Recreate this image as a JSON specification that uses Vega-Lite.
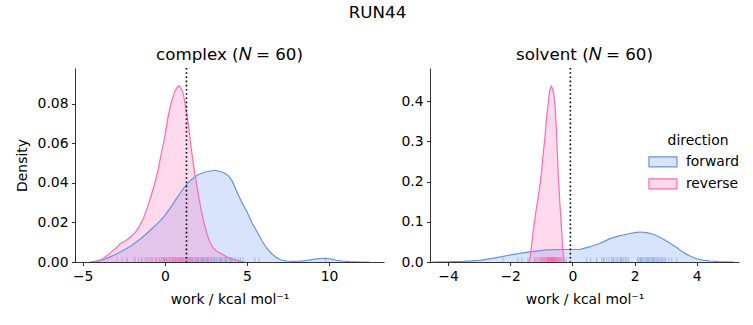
{
  "$schema": "https://vega.github.io/schema/vega-lite/v6.json",
  "background": "white",
  "padding": {"left": 15, "top": 4, "right": 5, "bottom": 5},
  "title": {"text": "RUN44", "fontSize": 16.7, "fontWeight": "normal", "font": "DejaVu Sans", "anchor": "middle", "offset": 25, "color": "black"},
  "config": {
    "font": "DejaVu Sans",
    "view": {"stroke": null},
    "axis": {"grid": false, "domainColor": "black", "domainWidth": 0.8, "tickColor": "black", "tickWidth": 0.8, "tickSize": 3.5, "labelPadding": 3.5, "labelFontSize": 13.9, "labelColor": "black", "titleFontSize": 13.9, "titleFontWeight": "normal", "titleColor": "black", "labelFont": "DejaVu Sans", "titleFont": "DejaVu Sans", "titlePadding": 10},
    "title": {"fontSize": 16.7, "fontWeight": "normal", "font": "DejaVu Sans", "color": "black"},
    "concat": {"spacing": 16}
  },
  "datasets": {
    "kde": [
      {"panel": "complex", "direction": "forward", "work": -4.5, "density": 0},
      {"panel": "complex", "direction": "forward", "work": -4.0, "density": 0.0005},
      {"panel": "complex", "direction": "forward", "work": -3.42, "density": 0.0022},
      {"panel": "complex", "direction": "forward", "work": -3.0, "density": 0.0038},
      {"panel": "complex", "direction": "forward", "work": -2.41, "density": 0.0064},
      {"panel": "complex", "direction": "forward", "work": -2.0, "density": 0.0085},
      {"panel": "complex", "direction": "forward", "work": -1.4, "density": 0.0123},
      {"panel": "complex", "direction": "forward", "work": -1.0, "density": 0.0152},
      {"panel": "complex", "direction": "forward", "work": -0.39, "density": 0.0199},
      {"panel": "complex", "direction": "forward", "work": 0.0, "density": 0.0235},
      {"panel": "complex", "direction": "forward", "work": 0.42, "density": 0.0284},
      {"panel": "complex", "direction": "forward", "work": 0.8, "density": 0.0332},
      {"panel": "complex", "direction": "forward", "work": 1.03, "density": 0.0359},
      {"panel": "complex", "direction": "forward", "work": 1.3, "density": 0.039},
      {"panel": "complex", "direction": "forward", "work": 1.64, "density": 0.0419},
      {"panel": "complex", "direction": "forward", "work": 2.0, "density": 0.044},
      {"panel": "complex", "direction": "forward", "work": 2.45, "density": 0.0455},
      {"panel": "complex", "direction": "forward", "work": 3.05, "density": 0.0464},
      {"panel": "complex", "direction": "forward", "work": 3.5, "density": 0.0455},
      {"panel": "complex", "direction": "forward", "work": 3.86, "density": 0.0438},
      {"panel": "complex", "direction": "forward", "work": 4.1, "density": 0.041},
      {"panel": "complex", "direction": "forward", "work": 4.37, "density": 0.0359},
      {"panel": "complex", "direction": "forward", "work": 4.7, "density": 0.03},
      {"panel": "complex", "direction": "forward", "work": 4.98, "density": 0.0258},
      {"panel": "complex", "direction": "forward", "work": 5.3, "density": 0.02},
      {"panel": "complex", "direction": "forward", "work": 5.59, "density": 0.0157},
      {"panel": "complex", "direction": "forward", "work": 5.9, "density": 0.011},
      {"panel": "complex", "direction": "forward", "work": 6.19, "density": 0.0072},
      {"panel": "complex", "direction": "forward", "work": 6.5, "density": 0.0043},
      {"panel": "complex", "direction": "forward", "work": 6.8, "density": 0.0022},
      {"panel": "complex", "direction": "forward", "work": 7.1, "density": 0.001},
      {"panel": "complex", "direction": "forward", "work": 7.41, "density": 0.0005},
      {"panel": "complex", "direction": "forward", "work": 7.8, "density": 0.0003},
      {"panel": "complex", "direction": "forward", "work": 8.2, "density": 0.0004},
      {"panel": "complex", "direction": "forward", "work": 8.6, "density": 0.0007},
      {"panel": "complex", "direction": "forward", "work": 9.02, "density": 0.0013},
      {"panel": "complex", "direction": "forward", "work": 9.4, "density": 0.0017},
      {"panel": "complex", "direction": "forward", "work": 9.73, "density": 0.0019},
      {"panel": "complex", "direction": "forward", "work": 10.1, "density": 0.0016},
      {"panel": "complex", "direction": "forward", "work": 10.44, "density": 0.0009},
      {"panel": "complex", "direction": "forward", "work": 10.8, "density": 0.0005},
      {"panel": "complex", "direction": "forward", "work": 11.25, "density": 0.0002},
      {"panel": "complex", "direction": "forward", "work": 11.8, "density": 0.00005},
      {"panel": "complex", "direction": "forward", "work": 12.45, "density": 0},
      {"panel": "complex", "direction": "reverse", "work": -4.55, "density": 0},
      {"panel": "complex", "direction": "reverse", "work": -4.2, "density": 0.0004},
      {"panel": "complex", "direction": "reverse", "work": -3.8, "density": 0.0015},
      {"panel": "complex", "direction": "reverse", "work": -3.4, "density": 0.004},
      {"panel": "complex", "direction": "reverse", "work": -3.0, "density": 0.0068},
      {"panel": "complex", "direction": "reverse", "work": -2.72, "density": 0.0092},
      {"panel": "complex", "direction": "reverse", "work": -2.4, "density": 0.0108},
      {"panel": "complex", "direction": "reverse", "work": -2.1, "density": 0.0125},
      {"panel": "complex", "direction": "reverse", "work": -1.8, "density": 0.015},
      {"panel": "complex", "direction": "reverse", "work": -1.6, "density": 0.0172},
      {"panel": "complex", "direction": "reverse", "work": -1.3, "density": 0.022},
      {"panel": "complex", "direction": "reverse", "work": -1.0, "density": 0.029},
      {"panel": "complex", "direction": "reverse", "work": -0.8, "density": 0.0345},
      {"panel": "complex", "direction": "reverse", "work": -0.6, "density": 0.04},
      {"panel": "complex", "direction": "reverse", "work": -0.4, "density": 0.047},
      {"panel": "complex", "direction": "reverse", "work": -0.2, "density": 0.0555},
      {"panel": "complex", "direction": "reverse", "work": 0.0, "density": 0.0635},
      {"panel": "complex", "direction": "reverse", "work": 0.2, "density": 0.0735},
      {"panel": "complex", "direction": "reverse", "work": 0.4, "density": 0.081},
      {"panel": "complex", "direction": "reverse", "work": 0.6, "density": 0.086},
      {"panel": "complex", "direction": "reverse", "work": 0.75, "density": 0.0884},
      {"panel": "complex", "direction": "reverse", "work": 0.87, "density": 0.0891},
      {"panel": "complex", "direction": "reverse", "work": 1.0, "density": 0.0878},
      {"panel": "complex", "direction": "reverse", "work": 1.13, "density": 0.0849},
      {"panel": "complex", "direction": "reverse", "work": 1.3, "density": 0.077},
      {"panel": "complex", "direction": "reverse", "work": 1.43, "density": 0.0697},
      {"panel": "complex", "direction": "reverse", "work": 1.6, "density": 0.058},
      {"panel": "complex", "direction": "reverse", "work": 1.74, "density": 0.0495},
      {"panel": "complex", "direction": "reverse", "work": 1.9, "density": 0.041},
      {"panel": "complex", "direction": "reverse", "work": 2.04, "density": 0.0343},
      {"panel": "complex", "direction": "reverse", "work": 2.2, "density": 0.027},
      {"panel": "complex", "direction": "reverse", "work": 2.35, "density": 0.0212},
      {"panel": "complex", "direction": "reverse", "work": 2.55, "density": 0.0145},
      {"panel": "complex", "direction": "reverse", "work": 2.75, "density": 0.01},
      {"panel": "complex", "direction": "reverse", "work": 2.95, "density": 0.0071},
      {"panel": "complex", "direction": "reverse", "work": 3.2, "density": 0.0052},
      {"panel": "complex", "direction": "reverse", "work": 3.56, "density": 0.0036},
      {"panel": "complex", "direction": "reverse", "work": 3.9, "density": 0.002},
      {"panel": "complex", "direction": "reverse", "work": 4.37, "density": 0.0008},
      {"panel": "complex", "direction": "reverse", "work": 4.8, "density": 0},
      {"panel": "solvent", "direction": "forward", "work": -4.5, "density": 0},
      {"panel": "solvent", "direction": "forward", "work": -4.0, "density": 0.0005},
      {"panel": "solvent", "direction": "forward", "work": -3.5, "density": 0.0015},
      {"panel": "solvent", "direction": "forward", "work": -2.97, "density": 0.004},
      {"panel": "solvent", "direction": "forward", "work": -2.44, "density": 0.011},
      {"panel": "solvent", "direction": "forward", "work": -1.9, "density": 0.019},
      {"panel": "solvent", "direction": "forward", "work": -1.37, "density": 0.025},
      {"panel": "solvent", "direction": "forward", "work": -0.83, "density": 0.03},
      {"panel": "solvent", "direction": "forward", "work": -0.3, "density": 0.031},
      {"panel": "solvent", "direction": "forward", "work": 0.25, "density": 0.0315},
      {"panel": "solvent", "direction": "forward", "work": 0.57, "density": 0.038},
      {"panel": "solvent", "direction": "forward", "work": 0.8, "density": 0.044},
      {"panel": "solvent", "direction": "forward", "work": 1.0, "density": 0.05},
      {"panel": "solvent", "direction": "forward", "work": 1.21, "density": 0.058},
      {"panel": "solvent", "direction": "forward", "work": 1.5, "density": 0.065},
      {"panel": "solvent", "direction": "forward", "work": 1.75, "density": 0.069},
      {"panel": "solvent", "direction": "forward", "work": 2.0, "density": 0.073},
      {"panel": "solvent", "direction": "forward", "work": 2.18, "density": 0.0745},
      {"panel": "solvent", "direction": "forward", "work": 2.4, "density": 0.073},
      {"panel": "solvent", "direction": "forward", "work": 2.6, "density": 0.069},
      {"panel": "solvent", "direction": "forward", "work": 2.8, "density": 0.062},
      {"panel": "solvent", "direction": "forward", "work": 3.03, "density": 0.052},
      {"panel": "solvent", "direction": "forward", "work": 3.2, "density": 0.044},
      {"panel": "solvent", "direction": "forward", "work": 3.36, "density": 0.0355},
      {"panel": "solvent", "direction": "forward", "work": 3.52, "density": 0.027},
      {"panel": "solvent", "direction": "forward", "work": 3.68, "density": 0.019},
      {"panel": "solvent", "direction": "forward", "work": 3.84, "density": 0.013},
      {"panel": "solvent", "direction": "forward", "work": 4.0, "density": 0.008},
      {"panel": "solvent", "direction": "forward", "work": 4.2, "density": 0.0045},
      {"panel": "solvent", "direction": "forward", "work": 4.43, "density": 0.0025},
      {"panel": "solvent", "direction": "forward", "work": 4.7, "density": 0.0012},
      {"panel": "solvent", "direction": "forward", "work": 4.97, "density": 0.0005},
      {"panel": "solvent", "direction": "forward", "work": 5.2, "density": 0},
      {"panel": "solvent", "direction": "reverse", "work": -1.4, "density": 0},
      {"panel": "solvent", "direction": "reverse", "work": -1.36, "density": 0.01},
      {"panel": "solvent", "direction": "reverse", "work": -1.31, "density": 0.044},
      {"panel": "solvent", "direction": "reverse", "work": -1.26, "density": 0.077},
      {"panel": "solvent", "direction": "reverse", "work": -1.17, "density": 0.127},
      {"panel": "solvent", "direction": "reverse", "work": -1.1, "density": 0.16},
      {"panel": "solvent", "direction": "reverse", "work": -1.04, "density": 0.193},
      {"panel": "solvent", "direction": "reverse", "work": -0.99, "density": 0.226},
      {"panel": "solvent", "direction": "reverse", "work": -0.94, "density": 0.268},
      {"panel": "solvent", "direction": "reverse", "work": -0.88, "density": 0.312},
      {"panel": "solvent", "direction": "reverse", "work": -0.83, "density": 0.36},
      {"panel": "solvent", "direction": "reverse", "work": -0.77, "density": 0.4},
      {"panel": "solvent", "direction": "reverse", "work": -0.73, "density": 0.425},
      {"panel": "solvent", "direction": "reverse", "work": -0.68, "density": 0.437},
      {"panel": "solvent", "direction": "reverse", "work": -0.63, "density": 0.43},
      {"panel": "solvent", "direction": "reverse", "work": -0.59, "density": 0.412},
      {"panel": "solvent", "direction": "reverse", "work": -0.56, "density": 0.39},
      {"panel": "solvent", "direction": "reverse", "work": -0.51, "density": 0.326},
      {"panel": "solvent", "direction": "reverse", "work": -0.46, "density": 0.226},
      {"panel": "solvent", "direction": "reverse", "work": -0.4, "density": 0.143},
      {"panel": "solvent", "direction": "reverse", "work": -0.35, "density": 0.085},
      {"panel": "solvent", "direction": "reverse", "work": -0.3, "density": 0.023},
      {"panel": "solvent", "direction": "reverse", "work": -0.26, "density": 0}
    ],
    "rug": [
      {"panel": "complex", "direction": "forward", "work": -2.3},
      {"panel": "complex", "direction": "forward", "work": -1.8},
      {"panel": "complex", "direction": "forward", "work": -1.4},
      {"panel": "complex", "direction": "forward", "work": -1.1},
      {"panel": "complex", "direction": "forward", "work": -0.8},
      {"panel": "complex", "direction": "forward", "work": -0.55},
      {"panel": "complex", "direction": "forward", "work": -0.3},
      {"panel": "complex", "direction": "forward", "work": -0.1},
      {"panel": "complex", "direction": "forward", "work": 0.1},
      {"panel": "complex", "direction": "forward", "work": 0.3},
      {"panel": "complex", "direction": "forward", "work": 0.5},
      {"panel": "complex", "direction": "forward", "work": 0.65},
      {"panel": "complex", "direction": "forward", "work": 0.8},
      {"panel": "complex", "direction": "forward", "work": 0.95},
      {"panel": "complex", "direction": "forward", "work": 1.1},
      {"panel": "complex", "direction": "forward", "work": 1.25},
      {"panel": "complex", "direction": "forward", "work": 1.4},
      {"panel": "complex", "direction": "forward", "work": 1.55},
      {"panel": "complex", "direction": "forward", "work": 1.7},
      {"panel": "complex", "direction": "forward", "work": 1.85},
      {"panel": "complex", "direction": "forward", "work": 1.95},
      {"panel": "complex", "direction": "forward", "work": 2.05},
      {"panel": "complex", "direction": "forward", "work": 2.15},
      {"panel": "complex", "direction": "forward", "work": 2.25},
      {"panel": "complex", "direction": "forward", "work": 2.35},
      {"panel": "complex", "direction": "forward", "work": 2.45},
      {"panel": "complex", "direction": "forward", "work": 2.55},
      {"panel": "complex", "direction": "forward", "work": 2.65},
      {"panel": "complex", "direction": "forward", "work": 2.75},
      {"panel": "complex", "direction": "forward", "work": 2.85},
      {"panel": "complex", "direction": "forward", "work": 2.95},
      {"panel": "complex", "direction": "forward", "work": 3.05},
      {"panel": "complex", "direction": "forward", "work": 3.15},
      {"panel": "complex", "direction": "forward", "work": 3.25},
      {"panel": "complex", "direction": "forward", "work": 3.35},
      {"panel": "complex", "direction": "forward", "work": 3.45},
      {"panel": "complex", "direction": "forward", "work": 3.55},
      {"panel": "complex", "direction": "forward", "work": 3.65},
      {"panel": "complex", "direction": "forward", "work": 3.75},
      {"panel": "complex", "direction": "forward", "work": 3.85},
      {"panel": "complex", "direction": "forward", "work": 3.95},
      {"panel": "complex", "direction": "forward", "work": 4.05},
      {"panel": "complex", "direction": "forward", "work": 4.15},
      {"panel": "complex", "direction": "forward", "work": 4.3},
      {"panel": "complex", "direction": "forward", "work": 4.47},
      {"panel": "complex", "direction": "forward", "work": 4.6},
      {"panel": "complex", "direction": "forward", "work": 4.77},
      {"panel": "complex", "direction": "forward", "work": 5.48},
      {"panel": "complex", "direction": "forward", "work": 5.74},
      {"panel": "complex", "direction": "forward", "work": 3.0},
      {"panel": "complex", "direction": "forward", "work": 2.0},
      {"panel": "complex", "direction": "forward", "work": 1.0},
      {"panel": "complex", "direction": "forward", "work": 0.0},
      {"panel": "complex", "direction": "forward", "work": 3.4},
      {"panel": "complex", "direction": "forward", "work": 2.6},
      {"panel": "complex", "direction": "forward", "work": 1.6},
      {"panel": "complex", "direction": "forward", "work": 3.7},
      {"panel": "complex", "direction": "forward", "work": 4.0},
      {"panel": "complex", "direction": "forward", "work": 2.3},
      {"panel": "complex", "direction": "forward", "work": 9.8},
      {"panel": "complex", "direction": "reverse", "work": -2.9},
      {"panel": "complex", "direction": "reverse", "work": -2.6},
      {"panel": "complex", "direction": "reverse", "work": -2.3},
      {"panel": "complex", "direction": "reverse", "work": -1.9},
      {"panel": "complex", "direction": "reverse", "work": -1.6},
      {"panel": "complex", "direction": "reverse", "work": -1.4},
      {"panel": "complex", "direction": "reverse", "work": -1.2},
      {"panel": "complex", "direction": "reverse", "work": -1.0},
      {"panel": "complex", "direction": "reverse", "work": -0.9},
      {"panel": "complex", "direction": "reverse", "work": -0.75},
      {"panel": "complex", "direction": "reverse", "work": -0.6},
      {"panel": "complex", "direction": "reverse", "work": -0.5},
      {"panel": "complex", "direction": "reverse", "work": -0.4},
      {"panel": "complex", "direction": "reverse", "work": -0.3},
      {"panel": "complex", "direction": "reverse", "work": -0.2},
      {"panel": "complex", "direction": "reverse", "work": -0.12},
      {"panel": "complex", "direction": "reverse", "work": -0.05},
      {"panel": "complex", "direction": "reverse", "work": 0.0},
      {"panel": "complex", "direction": "reverse", "work": 0.08},
      {"panel": "complex", "direction": "reverse", "work": 0.15},
      {"panel": "complex", "direction": "reverse", "work": 0.2},
      {"panel": "complex", "direction": "reverse", "work": 0.27},
      {"panel": "complex", "direction": "reverse", "work": 0.33},
      {"panel": "complex", "direction": "reverse", "work": 0.38},
      {"panel": "complex", "direction": "reverse", "work": 0.43},
      {"panel": "complex", "direction": "reverse", "work": 0.48},
      {"panel": "complex", "direction": "reverse", "work": 0.52},
      {"panel": "complex", "direction": "reverse", "work": 0.57},
      {"panel": "complex", "direction": "reverse", "work": 0.62},
      {"panel": "complex", "direction": "reverse", "work": 0.66},
      {"panel": "complex", "direction": "reverse", "work": 0.7},
      {"panel": "complex", "direction": "reverse", "work": 0.74},
      {"panel": "complex", "direction": "reverse", "work": 0.78},
      {"panel": "complex", "direction": "reverse", "work": 0.82},
      {"panel": "complex", "direction": "reverse", "work": 0.86},
      {"panel": "complex", "direction": "reverse", "work": 0.9},
      {"panel": "complex", "direction": "reverse", "work": 0.94},
      {"panel": "complex", "direction": "reverse", "work": 0.98},
      {"panel": "complex", "direction": "reverse", "work": 1.02},
      {"panel": "complex", "direction": "reverse", "work": 1.06},
      {"panel": "complex", "direction": "reverse", "work": 1.1},
      {"panel": "complex", "direction": "reverse", "work": 1.14},
      {"panel": "complex", "direction": "reverse", "work": 1.19},
      {"panel": "complex", "direction": "reverse", "work": 1.24},
      {"panel": "complex", "direction": "reverse", "work": 1.29},
      {"panel": "complex", "direction": "reverse", "work": 1.34},
      {"panel": "complex", "direction": "reverse", "work": 1.4},
      {"panel": "complex", "direction": "reverse", "work": 1.46},
      {"panel": "complex", "direction": "reverse", "work": 1.52},
      {"panel": "complex", "direction": "reverse", "work": 1.6},
      {"panel": "complex", "direction": "reverse", "work": 1.68},
      {"panel": "complex", "direction": "reverse", "work": 1.77},
      {"panel": "complex", "direction": "reverse", "work": 1.86},
      {"panel": "complex", "direction": "reverse", "work": 1.96},
      {"panel": "complex", "direction": "reverse", "work": 2.06},
      {"panel": "complex", "direction": "reverse", "work": 2.2},
      {"panel": "complex", "direction": "reverse", "work": 2.35},
      {"panel": "complex", "direction": "reverse", "work": 2.5},
      {"panel": "complex", "direction": "reverse", "work": 2.65},
      {"panel": "complex", "direction": "reverse", "work": 2.8},
      {"panel": "solvent", "direction": "forward", "work": -2.23},
      {"panel": "solvent", "direction": "forward", "work": -1.75},
      {"panel": "solvent", "direction": "forward", "work": -1.62},
      {"panel": "solvent", "direction": "forward", "work": -1.43},
      {"panel": "solvent", "direction": "forward", "work": -1.2},
      {"panel": "solvent", "direction": "forward", "work": -1.0},
      {"panel": "solvent", "direction": "forward", "work": -0.8},
      {"panel": "solvent", "direction": "forward", "work": -0.6},
      {"panel": "solvent", "direction": "forward", "work": -0.4},
      {"panel": "solvent", "direction": "forward", "work": -0.2},
      {"panel": "solvent", "direction": "forward", "work": 0.46},
      {"panel": "solvent", "direction": "forward", "work": 0.59},
      {"panel": "solvent", "direction": "forward", "work": 0.78},
      {"panel": "solvent", "direction": "forward", "work": 0.94},
      {"panel": "solvent", "direction": "forward", "work": 1.02},
      {"panel": "solvent", "direction": "forward", "work": 1.1},
      {"panel": "solvent", "direction": "forward", "work": 1.18},
      {"panel": "solvent", "direction": "forward", "work": 1.26},
      {"panel": "solvent", "direction": "forward", "work": 1.33},
      {"panel": "solvent", "direction": "forward", "work": 1.4},
      {"panel": "solvent", "direction": "forward", "work": 1.45},
      {"panel": "solvent", "direction": "forward", "work": 1.5},
      {"panel": "solvent", "direction": "forward", "work": 1.55},
      {"panel": "solvent", "direction": "forward", "work": 1.6},
      {"panel": "solvent", "direction": "forward", "work": 1.65},
      {"panel": "solvent", "direction": "forward", "work": 1.7},
      {"panel": "solvent", "direction": "forward", "work": 1.75},
      {"panel": "solvent", "direction": "forward", "work": 1.8},
      {"panel": "solvent", "direction": "forward", "work": 2.1},
      {"panel": "solvent", "direction": "forward", "work": 2.14},
      {"panel": "solvent", "direction": "forward", "work": 2.18},
      {"panel": "solvent", "direction": "forward", "work": 2.22},
      {"panel": "solvent", "direction": "forward", "work": 2.26},
      {"panel": "solvent", "direction": "forward", "work": 2.3},
      {"panel": "solvent", "direction": "forward", "work": 2.34},
      {"panel": "solvent", "direction": "forward", "work": 2.38},
      {"panel": "solvent", "direction": "forward", "work": 2.42},
      {"panel": "solvent", "direction": "forward", "work": 2.46},
      {"panel": "solvent", "direction": "forward", "work": 2.5},
      {"panel": "solvent", "direction": "forward", "work": 2.54},
      {"panel": "solvent", "direction": "forward", "work": 2.58},
      {"panel": "solvent", "direction": "forward", "work": 2.62},
      {"panel": "solvent", "direction": "forward", "work": 2.66},
      {"panel": "solvent", "direction": "forward", "work": 2.7},
      {"panel": "solvent", "direction": "forward", "work": 2.74},
      {"panel": "solvent", "direction": "forward", "work": 2.78},
      {"panel": "solvent", "direction": "forward", "work": 2.82},
      {"panel": "solvent", "direction": "forward", "work": 2.86},
      {"panel": "solvent", "direction": "forward", "work": 2.9},
      {"panel": "solvent", "direction": "forward", "work": 2.95},
      {"panel": "solvent", "direction": "forward", "work": 3.0},
      {"panel": "solvent", "direction": "forward", "work": 3.1},
      {"panel": "solvent", "direction": "forward", "work": 3.2},
      {"panel": "solvent", "direction": "forward", "work": 3.36},
      {"panel": "solvent", "direction": "forward", "work": 1.3},
      {"panel": "solvent", "direction": "forward", "work": 1.0},
      {"panel": "solvent", "direction": "forward", "work": 2.2},
      {"panel": "solvent", "direction": "forward", "work": 2.6},
      {"panel": "solvent", "direction": "forward", "work": 2.44},
      {"panel": "solvent", "direction": "forward", "work": 1.58},
      {"panel": "solvent", "direction": "reverse", "work": -1.22},
      {"panel": "solvent", "direction": "reverse", "work": -1.15},
      {"panel": "solvent", "direction": "reverse", "work": -1.1},
      {"panel": "solvent", "direction": "reverse", "work": -1.06},
      {"panel": "solvent", "direction": "reverse", "work": -1.02},
      {"panel": "solvent", "direction": "reverse", "work": -0.99},
      {"panel": "solvent", "direction": "reverse", "work": -0.96},
      {"panel": "solvent", "direction": "reverse", "work": -0.93},
      {"panel": "solvent", "direction": "reverse", "work": -0.91},
      {"panel": "solvent", "direction": "reverse", "work": -0.89},
      {"panel": "solvent", "direction": "reverse", "work": -0.87},
      {"panel": "solvent", "direction": "reverse", "work": -0.85},
      {"panel": "solvent", "direction": "reverse", "work": -0.83},
      {"panel": "solvent", "direction": "reverse", "work": -0.81},
      {"panel": "solvent", "direction": "reverse", "work": -0.8},
      {"panel": "solvent", "direction": "reverse", "work": -0.79},
      {"panel": "solvent", "direction": "reverse", "work": -0.78},
      {"panel": "solvent", "direction": "reverse", "work": -0.77},
      {"panel": "solvent", "direction": "reverse", "work": -0.76},
      {"panel": "solvent", "direction": "reverse", "work": -0.75},
      {"panel": "solvent", "direction": "reverse", "work": -0.74},
      {"panel": "solvent", "direction": "reverse", "work": -0.73},
      {"panel": "solvent", "direction": "reverse", "work": -0.72},
      {"panel": "solvent", "direction": "reverse", "work": -0.71},
      {"panel": "solvent", "direction": "reverse", "work": -0.7},
      {"panel": "solvent", "direction": "reverse", "work": -0.69},
      {"panel": "solvent", "direction": "reverse", "work": -0.68},
      {"panel": "solvent", "direction": "reverse", "work": -0.675},
      {"panel": "solvent", "direction": "reverse", "work": -0.67},
      {"panel": "solvent", "direction": "reverse", "work": -0.665},
      {"panel": "solvent", "direction": "reverse", "work": -0.66},
      {"panel": "solvent", "direction": "reverse", "work": -0.655},
      {"panel": "solvent", "direction": "reverse", "work": -0.65},
      {"panel": "solvent", "direction": "reverse", "work": -0.645},
      {"panel": "solvent", "direction": "reverse", "work": -0.64},
      {"panel": "solvent", "direction": "reverse", "work": -0.635},
      {"panel": "solvent", "direction": "reverse", "work": -0.63},
      {"panel": "solvent", "direction": "reverse", "work": -0.62},
      {"panel": "solvent", "direction": "reverse", "work": -0.61},
      {"panel": "solvent", "direction": "reverse", "work": -0.6},
      {"panel": "solvent", "direction": "reverse", "work": -0.59},
      {"panel": "solvent", "direction": "reverse", "work": -0.58},
      {"panel": "solvent", "direction": "reverse", "work": -0.57},
      {"panel": "solvent", "direction": "reverse", "work": -0.56},
      {"panel": "solvent", "direction": "reverse", "work": -0.55},
      {"panel": "solvent", "direction": "reverse", "work": -0.54},
      {"panel": "solvent", "direction": "reverse", "work": -0.53},
      {"panel": "solvent", "direction": "reverse", "work": -0.52},
      {"panel": "solvent", "direction": "reverse", "work": -0.51},
      {"panel": "solvent", "direction": "reverse", "work": -0.5},
      {"panel": "solvent", "direction": "reverse", "work": -0.49},
      {"panel": "solvent", "direction": "reverse", "work": -0.48},
      {"panel": "solvent", "direction": "reverse", "work": -0.46},
      {"panel": "solvent", "direction": "reverse", "work": -0.44},
      {"panel": "solvent", "direction": "reverse", "work": -0.42},
      {"panel": "solvent", "direction": "reverse", "work": -0.4},
      {"panel": "solvent", "direction": "reverse", "work": -0.38},
      {"panel": "solvent", "direction": "reverse", "work": -0.35},
      {"panel": "solvent", "direction": "reverse", "work": -0.31},
      {"panel": "solvent", "direction": "reverse", "work": -0.27}
    ],
    "mean": [
      {"panel": "complex", "work": 1.32},
      {"panel": "solvent", "work": -0.065}
    ]
  },
  "hconcat": [
    {
      "width": 309,
      "height": 194,
      "title": {"text": "complex (𝑁 = 60)", "offset": 4},
      "layer": [
        {
          "data": {"name": "kde"},
          "transform": [{"filter": "datum.panel === 'complex'"}],
          "mark": {"type": "area", "fillOpacity": 0.25, "clip": true},
          "encoding": {
            "x": {"field": "work", "type": "quantitative", "scale": {"domain": [-5.47, 13.35], "nice": false, "zero": false}, "axis": {"values": [-5, 0, 5, 10], "title": "work / kcal mol⁻¹", "labelFlush": false}},
            "y": {"field": "density", "type": "quantitative", "stack": null, "scale": {"domain": [0, 0.0981], "nice": false}, "axis": {"values": [0, 0.02, 0.04, 0.06, 0.08], "format": ".2f", "title": "Density", "titlePadding": 8}},
            "fill": {"field": "direction", "type": "nominal", "scale": {"domain": ["forward", "reverse"], "range": ["#6495ED", "#FF69B4"]}, "legend": null}
          }
        },
        {
          "data": {"name": "kde"},
          "transform": [{"filter": "datum.panel === 'complex'"}],
          "mark": {"type": "line", "strokeWidth": 1.2, "clip": true},
          "encoding": {
            "x": {"field": "work", "type": "quantitative"},
            "y": {"field": "density", "type": "quantitative", "stack": null},
            "stroke": {"field": "direction", "type": "nominal", "scale": {"domain": ["forward", "reverse"], "range": ["#6495ED", "#FF69B4"]}, "legend": null}
          }
        },
        {
          "data": {"name": "rug"},
          "transform": [{"filter": "datum.panel === 'complex'"}],
          "mark": {"type": "rule", "strokeWidth": 1, "strokeOpacity": 0.5},
          "encoding": {
            "x": {"field": "work", "type": "quantitative"},
            "y": {"datum": 0},
            "y2": {"datum": 0.00245},
            "stroke": {"field": "direction", "type": "nominal", "legend": null}
          }
        },
        {
          "data": {"name": "mean"},
          "transform": [{"filter": "datum.panel === 'complex'"}],
          "mark": {"type": "rule", "color": "black", "strokeWidth": 1.6, "strokeDash": [1.6, 2.6]},
          "encoding": {
            "x": {"field": "work", "type": "quantitative"}
          }
        }
      ]
    },
    {
      "width": 309,
      "height": 194,
      "title": {"text": "solvent (𝑁 = 60)", "offset": 4},
      "layer": [
        {
          "data": {"name": "kde"},
          "transform": [{"filter": "datum.panel === 'solvent'"}],
          "mark": {"type": "area", "fillOpacity": 0.25, "clip": true},
          "encoding": {
            "x": {"field": "work", "type": "quantitative", "scale": {"domain": [-4.58, 5.36], "nice": false, "zero": false}, "axis": {"values": [-4, -2, 0, 2, 4], "title": "work / kcal mol⁻¹", "labelFlush": false}},
            "y": {"field": "density", "type": "quantitative", "stack": null, "scale": {"domain": [0, 0.482], "nice": false}, "axis": {"values": [0, 0.1, 0.2, 0.3, 0.4], "format": ".1f", "title": null}},
            "fill": {"field": "direction", "type": "nominal", "title": "direction", "scale": {"domain": ["forward", "reverse"], "range": ["#6495ED", "#FF69B4"]},
              "legend": {"orient": "none", "legendX": 226, "legendY": 66, "title": "direction", "titleFontSize": 13.9, "titleFontWeight": "normal", "titleColor": "black", "titleAnchor": "middle", "titlePadding": 7, "labelFontSize": 13.9, "labelColor": "black", "labelOffset": 16, "symbolType": "M-2.8,-1H2.8V1H-2.8Z", "symbolSize": 100, "symbolStrokeWidth": 1.2, "rowPadding": 6, "padding": 0,
                "encode": {"symbols": {"update": {"fillOpacity": {"value": 0.25}}}}}}
          }
        },
        {
          "data": {"name": "kde"},
          "transform": [{"filter": "datum.panel === 'solvent'"}],
          "mark": {"type": "line", "strokeWidth": 1.2, "clip": true},
          "encoding": {
            "x": {"field": "work", "type": "quantitative"},
            "y": {"field": "density", "type": "quantitative", "stack": null},
            "stroke": {"field": "direction", "type": "nominal", "title": "direction", "scale": {"domain": ["forward", "reverse"], "range": ["#6495ED", "#FF69B4"]},
              "legend": {"orient": "none", "legendX": 226, "legendY": 66, "title": "direction", "titleFontSize": 13.9, "titleFontWeight": "normal", "titleColor": "black", "titleAnchor": "middle", "titlePadding": 7, "labelFontSize": 13.9, "labelColor": "black", "labelOffset": 16, "symbolType": "M-2.8,-1H2.8V1H-2.8Z", "symbolSize": 100, "symbolStrokeWidth": 1.2, "rowPadding": 6, "padding": 0}}
          }
        },
        {
          "data": {"name": "rug"},
          "transform": [{"filter": "datum.panel === 'solvent'"}],
          "mark": {"type": "rule", "strokeWidth": 1, "strokeOpacity": 0.5},
          "encoding": {
            "x": {"field": "work", "type": "quantitative"},
            "y": {"datum": 0},
            "y2": {"datum": 0.012},
            "stroke": {"field": "direction", "type": "nominal", "title": "direction"}
          }
        },
        {
          "data": {"name": "mean"},
          "transform": [{"filter": "datum.panel === 'solvent'"}],
          "mark": {"type": "rule", "color": "black", "strokeWidth": 1.6, "strokeDash": [1.6, 2.6]},
          "encoding": {
            "x": {"field": "work", "type": "quantitative"}
          }
        }
      ]
    }
  ],
  "resolve": {"scale": {"fill": "independent", "stroke": "independent"}, "legend": {"fill": "independent", "stroke": "independent"}}
}
